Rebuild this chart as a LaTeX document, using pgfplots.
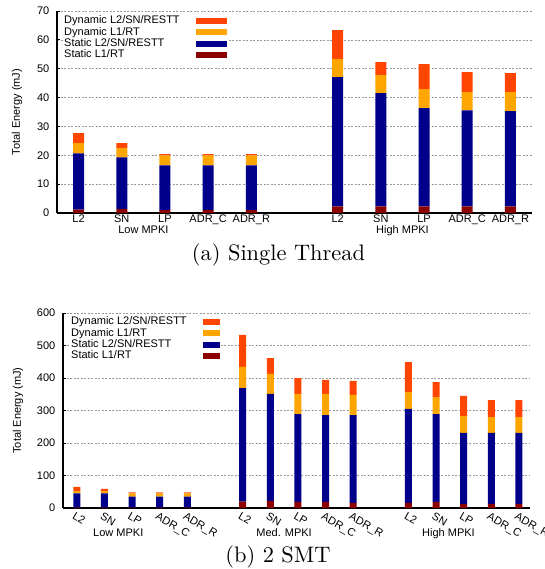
\documentclass[border=0pt]{standalone}
\usepackage{pgfplots}
\pgfplotsset{compat=1.18}
\usepackage{fontspec}
\setsansfont{Liberation Sans}
\newfontfamily\capfont[Extension=.otf]{lmroman10-regular}
\definecolor{cSL}{HTML}{8B0000}
\definecolor{cSB}{HTML}{00008B}
\definecolor{cDL}{HTML}{FFA500}
\definecolor{cDB}{HTML}{FF4500}
\newcommand{\lf}{\fontsize{11}{13}\selectfont\sffamily}
\pgfplotsset{
  myaxis/.style={
    scale only axis,
    ybar stacked,
    ymin=0,
    axis x line*=bottom, axis y line*=left,
    axis line style={-, line width=1.1pt, black},
    ymajorgrids,
    grid style={gray!80, line width=0.6pt, dash pattern=on 2pt off 1.5pt},
    tick align=inside,
    major tick length=3pt,
    xtick style={draw=none},
    ytick style={line width=0.8pt, black},
    /pgf/number format/assume math mode=true,
    ticklabel style={font=\lf},
    yticklabel style={inner sep=0pt, xshift=-7.5pt},
    ylabel={Total Energy (mJ)},
    label style={font=\lf},
    clip=false,
    reverse legend,
    legend cell align=left,
    legend plot pos=right,
    legend style={draw=none, fill=white, inner sep=1pt, row sep=0pt, column sep=16pt,
      font=\lf,
      nodes={inner sep=0.5pt, text height=8pt, text depth=2.3pt}},
  },
}
\begin{document}
\begin{tikzpicture}
\path[use as bounding box] (0,0) rectangle (544pt,-569pt);
% ---------- (a) Single Thread ----------
\begin{axis}[myaxis,
  at={(57pt,-11pt)}, anchor=north west,
  width=475pt, height=202pt,
  xmin=-0.5, xmax=10.5, ymax=70,
  ytick={0,10,...,70},
  bar width=11pt,
  xtick={0,1,2,3,4,6,7,8,9,10},
  xticklabels={L2,SN,LP,ADR\_C,ADR\_R,L2,SN,LP,ADR\_C,ADR\_R},
  xticklabel style={anchor=base, yshift=-10pt},
  ylabel style={at={(axis description cs:-0.0842,0.5)}, anchor=center},
  legend image code/.code={\fill[#1] (0pt,-3pt) rectangle (31pt,3pt);},
  legend style={at={(0.0116,0.984)}, anchor=north west},
]
\addplot[fill=cSL, draw=none] coordinates {(0,1.2) (1,1.4) (2,1.0) (3,1.0) (4,1.0) (6,2.3) (7,2.3) (8,2.3) (9,2.3) (10,2.3)};
\addplot[fill=cSB, draw=none] coordinates {(0,19.5) (1,17.9) (2,15.5) (3,15.5) (4,15.5) (6,44.8) (7,39.2) (8,34.0) (9,33.3) (10,33.0)};
\addplot[fill=cDL, draw=none] coordinates {(0,3.5) (1,3.3) (2,3.5) (3,3.5) (4,3.5) (6,6.2) (7,6.3) (8,6.6) (9,6.3) (10,6.6)};
\addplot[fill=cDB, draw=none] coordinates {(0,3.5) (1,1.6) (2,0.4) (3,0.4) (4,0.4) (6,10.1) (7,4.5) (8,8.7) (9,6.9) (10,6.6)};
\legend{Static L1/RT, Static L2/SN/RESTT, Dynamic L1/RT, Dynamic L2/SN/RESTT}
\node[anchor=base, font=\lf, yshift=-20.4pt] at (axis cs:1.5,0) {Low MPKI};
\node[anchor=base, font=\lf, yshift=-20.4pt] at (axis cs:7.5,0) {High MPKI};
\end{axis}
\node[anchor=base, font=\capfont\fontsize{22.4}{26}\selectfont] at (278.5pt,-260.5pt) {(a) Single Thread};
% ---------- (b) 2 SMT ----------
\begin{axis}[myaxis,
  at={(63pt,-313pt)}, anchor=north west,
  width=467pt, height=195pt,
  xmin=-0.5, xmax=16.4, ymax=600,
  ytick={0,100,...,600},
  bar width=7pt,
  xtick={0,1,2,3,4,6,7,8,9,10,12,13,14,15,16},
  xticklabels={L2,SN,LP,ADR\_C,ADR\_R,L2,SN,LP,ADR\_C,ADR\_R,L2,SN,LP,ADR\_C,ADR\_R},
  xticklabel style={rotate=-30, anchor=north west, inner sep=1pt, yshift=-3pt},
  ylabel style={at={(axis description cs:-0.0964,0.5)}, anchor=center},
  legend image code/.code={\fill[#1] (0pt,-3pt) rectangle (17pt,3pt);},
  legend style={at={(0.0139,0.9887)}, anchor=north west},
]
\addplot[fill=cSL, draw=none] coordinates {(0,1) (1,1) (2,1) (3,1) (4,1) (6,20) (7,22) (8,19) (9,19) (10,16) (12,16) (13,19) (14,13) (15,13) (16,13)};
\addplot[fill=cSB, draw=none] coordinates {(0,44) (1,44) (2,34) (3,34) (4,34) (6,349) (7,329) (8,270) (9,267) (10,270) (12,289) (13,270) (14,218) (15,218) (16,218)};
\addplot[fill=cDL, draw=none] coordinates {(0,8) (1,7) (2,10) (3,10) (4,10) (6,65) (7,62) (8,62) (9,65) (10,62) (12,52) (13,52) (14,52) (15,49) (16,49)};
\addplot[fill=cDB, draw=none] coordinates {(0,12) (1,7) (2,3) (3,3) (4,3) (6,99) (7,48) (8,49) (9,43) (10,43) (12,92) (13,46) (14,62) (15,52) (16,52)};
\legend{Static L1/RT, Static L2/SN/RESTT, Dynamic L1/RT, Dynamic L2/SN/RESTT}
\node[anchor=base, font=\lf, yshift=-28pt] at (axis cs:1.5,0) {Low MPKI};
\node[anchor=base, font=\lf, yshift=-28pt] at (axis cs:7.5,0) {Med. MPKI};
\node[anchor=base, font=\lf, yshift=-28pt] at (axis cs:13.45,0) {High MPKI};
\end{axis}
\node[anchor=base, font=\capfont\fontsize{22.4}{26}\selectfont] at (278pt,-562pt) {(b) 2 SMT};
\end{tikzpicture}
\end{document}
